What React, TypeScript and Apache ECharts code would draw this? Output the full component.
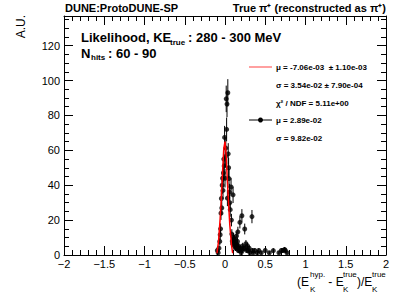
import React, { useEffect, useRef } from "react";
import * as echarts from "echarts";

// Histogram bins (bin centre, content, error)
const binX = [
  -0.095, -0.085, -0.075, -0.065, -0.06, -0.055, -0.05, -0.045, -0.04, -0.035,
  -0.03, -0.025, -0.02, -0.015, -0.01, -0.005, 0.0, 0.005, 0.01, 0.015,
  0.02, 0.025, 0.03, 0.035, 0.04, 0.045, 0.05, 0.055, 0.06, 0.065,
  0.075, 0.08, 0.085, 0.09, 0.095, 0.1, 0.105, 0.11, 0.115, 0.12,
  0.125, 0.13, 0.135, 0.14, 0.145, 0.15, 0.155, 0.16, 0.165, 0.17,
  0.175, 0.18, 0.185, 0.19, 0.2, 0.21, 0.215, 0.22, 0.23, 0.245,
  0.25, 0.26, 0.27, 0.28, 0.29, 0.3, 0.31, 0.335, 0.34, 0.35,
  0.37, 0.4, 0.42, 0.45, 0.5, 0.55, 0.6, 0.67, 0.7, 0.72,
  0.74, 0.75, 0.77,
];
const binY = [
  2.6, 1.3, 3.9, 7.8, 11.6, 15.0, 24.0, 32.4, 27.0, 40.0,
  44.0, 37.0, 47.0, 55.0, 51.0, 67.4, 44.0, 56.4, 61.3, 89.5,
  72.0, 86.5, 32.6, 93.0, 58.0, 50.0, 43.8, 36.0, 30.0, 26.0,
  39.0, 20.0, 12.0, 8.0, 6.5, 34.5, 10.0, 6.5, 9.0, 5.2,
  7.8, 3.9, 6.5, 10.8, 5.2, 3.9, 7.8, 13.3, 2.6, 5.2,
  3.9, 2.6, 18.7, 3.9, 1.3, 22.5, 2.6, 5.2, 3.9, 14.9,
  3.9, 6.5, 2.6, 5.2, 2.6, 3.9, 1.3, 22.0, 2.6, 1.3,
  2.6, 1.3, 2.6, 1.3, 2.6, 1.3, 2.5, 1.3, 2.6, 2.6,
  3.2, 2.6, 1.3,
];
const binErr = [
  1.3, 0.9, 1.6, 2.3, 2.7, 3.1, 3.9, 4.6, 4.2, 5.1,
  5.3, 4.9, 5.5, 6.0, 5.8, 6.6, 5.3, 6.1, 6.3, 7.6,
  6.8, 7.5, 4.6, 7.8, 6.1, 5.7, 5.3, 4.8, 4.4, 4.1,
  5.0, 3.6, 2.8, 2.3, 2.1, 4.7, 2.6, 2.1, 2.4, 1.8,
  2.3, 1.6, 2.1, 2.6, 1.8, 1.6, 2.3, 2.9, 1.3, 1.8,
  1.6, 1.3, 3.5, 1.6, 0.9, 3.8, 1.3, 1.8, 1.6, 3.1,
  1.6, 2.1, 1.3, 1.8, 1.3, 1.6, 0.9, 3.8, 1.3, 0.9,
  1.3, 0.9, 1.3, 0.9, 1.3, 0.9, 1.3, 0.9, 1.3, 1.3,
  1.4, 1.3, 0.9,
];

// Gaussian fit curve as drawn
const fitX = [-0.1, -0.08, -0.06, -0.045, -0.03, -0.015, 0.0, 0.015, 0.03, 0.045, 0.06, 0.08, 0.095];
const fitY = [1, 8, 21, 33, 48, 61, 65, 57, 42, 29, 17, 6, 1];

const xTickMin = -2;
const xTickMax = 2;
const yTickMax = 137;

const legendRows = [
  "\u03bc = -7.06e-03  \u00b1 1.10e-03",
  "\u03c3 = 3.54e-02 \u00b1 7.90e-04",
  "\u03c7\u00b2 / NDF = 5.11e+00",
  "\u03bc = 2.89e-02",
  "\u03c3 = 9.82e-02",
];

const FONT = "'Liberation Sans', Arial, Helvetica, sans-serif";

export default function App() {
  const ref = useRef<HTMLDivElement>(null);
  useEffect(() => {
    document.body.style.margin = "0";
    if (!ref.current) return;
    const chart = echarts.init(ref.current, null, { renderer: "svg" });

    const fmtX = (v: number) => String(Math.round(v * 10) / 10).replace("-", "\u2212");
    const fmtY = (v: number) => (Math.abs(v % 20) < 1e-6 ? String(v) : "");

    const baseX = (pos: "bottom" | "top", labels: boolean) => ({
      type: "value",
      min: xTickMin,
      max: xTickMax,
      interval: 0.5,
      position: pos,
      axisLine: { show: true, onZero: false, lineStyle: { color: "#000", width: 1 } },
      axisTick: { show: true, inside: true, length: 9, lineStyle: { color: "#000", width: 1 } },
      minorTick: { show: true, splitNumber: 5, length: 5, lineStyle: { color: "#000", width: 1 } },
      splitLine: { show: false },
      minorSplitLine: { show: false },
      axisLabel: labels
        ? { show: true, color: "#000", fontSize: 11, fontFamily: FONT, margin: 3, formatter: fmtX }
        : { show: false },
    });
    const baseY = (pos: "left" | "right", interval: number, len: number, labels: boolean, line: boolean) => ({
      type: "value",
      min: 0,
      max: yTickMax,
      interval,
      position: pos,
      axisLine: { show: line, onZero: false, lineStyle: { color: "#000", width: 1 } },
      axisTick: { show: true, inside: true, length: len, lineStyle: { color: "#000", width: 1 } },
      splitLine: { show: false },
      axisLabel: labels
        ? { show: true, color: "#000", fontSize: 11, fontFamily: FONT, margin: 4, formatter: fmtY }
        : { show: false },
    });

    const errData = binX.map((x, i) => [x, Math.max(0, binY[i] - binErr[i]), binY[i] + binErr[i]]);
    const ptData = binX.map((x, i) => [x, binY[i]]);
    const fitData = fitX.map((x, i) => [x, fitY[i]]);

    const txt = (x: number, y: number, text: string, size: number, weight: string, align = "left", extra: any = {}) => ({
      type: "text",
      x,
      y,
      ...extra,
      style: {
        text,
        fill: "#000",
        font: `${weight} ${size}px ${FONT}`,
        align,
        verticalAlign: "middle",
      },
    });

    const legY = [67, 85, 103, 120, 138];
    const tY = 282;

    const option: any = {
      animation: false,
      backgroundColor: "#fff",
      grid: { left: 64, right: 21, top: 16, bottom: 37 },
      xAxis: [baseX("bottom", true), baseX("top", false)],
      yAxis: [
        baseY("left", 20, 9, true, true),
        baseY("left", 5, 5, false, false),
        baseY("right", 20, 9, false, true),
        baseY("right", 5, 5, false, false),
      ],
      series: [
        {
          type: "custom",
          xAxisIndex: 0,
          yAxisIndex: 0,
          data: errData,
          encode: { x: 0, y: [1, 2] },
          renderItem: (_p: any, api: any) => {
            const a = api.coord([api.value(0), api.value(1)]);
            const b = api.coord([api.value(0), api.value(2)]);
            return {
              type: "line",
              shape: { x1: a[0], y1: a[1], x2: b[0], y2: b[1] },
              style: { stroke: "#000", lineWidth: 1 },
            };
          },
          z: 2,
        },
        {
          type: "scatter",
          xAxisIndex: 0,
          yAxisIndex: 0,
          data: ptData,
          symbol: "circle",
          symbolSize: 5,
          itemStyle: { color: "#000" },
          z: 3,
        },
        {
          type: "line",
          xAxisIndex: 0,
          yAxisIndex: 0,
          data: fitData,
          showSymbol: false,
          lineStyle: { color: "#ff0000", width: 1.5 },
          z: 4,
        },
      ],
      graphic: [
        txt(65, 8, "DUNE:ProtoDUNE-SP", 11, "bold"),
        txt(386, 8, "True \u03c0\u207a (reconstructed as \u03c0\u207a)", 11, "bold", "right"),
        txt(81, 37, "Likelihood, KE", 13, "bold"),
        txt(170, 42, "true", 8, "bold"),
        txt(188, 37, ": 280 - 300 MeV", 13, "bold"),
        txt(81, 53, "N", 13, "bold"),
        txt(91, 57, "hits", 8, "bold"),
        txt(108, 53, ": 60 - 90", 13, "bold"),
        {
          type: "text",
          x: 21,
          y: 15,
          rotation: Math.PI / 2,
          style: { text: "A.U.", fill: "#000", font: `12px ${FONT}`, align: "right", verticalAlign: "middle" },
        },
        // x axis title
        txt(297, tY, "(E", 12, "normal"),
        txt(310, tY - 8, "hyp.", 8, "normal"),
        txt(310, tY + 7, "K", 8, "normal"),
        txt(325, tY, " - E", 12, "normal"),
        txt(343, tY - 8, "true", 8, "normal"),
        txt(343, tY + 7, "K", 8, "normal"),
        txt(357, tY, ")/E", 12, "normal"),
        txt(372, tY - 8, "true", 8, "normal"),
        txt(372, tY + 7, "K", 8, "normal"),
        // legend
        { type: "line", shape: { x1: 249, y1: legY[0], x2: 272, y2: legY[0] }, style: { stroke: "#ff8080", lineWidth: 1.5 } },
        { type: "line", shape: { x1: 249, y1: legY[3], x2: 272, y2: legY[3] }, style: { stroke: "#000", lineWidth: 1 } },
        { type: "circle", shape: { cx: 260.5, cy: legY[3], r: 2.5 }, style: { fill: "#000" } },
        ...legendRows.map((t, i) => txt(276, legY[i], t, 8, "bold")),
      ],
    };
    chart.setOption(option);
    return () => chart.dispose();
  }, []);
  return <div ref={ref} style={{ width: 407, height: 292 }} />;
}
